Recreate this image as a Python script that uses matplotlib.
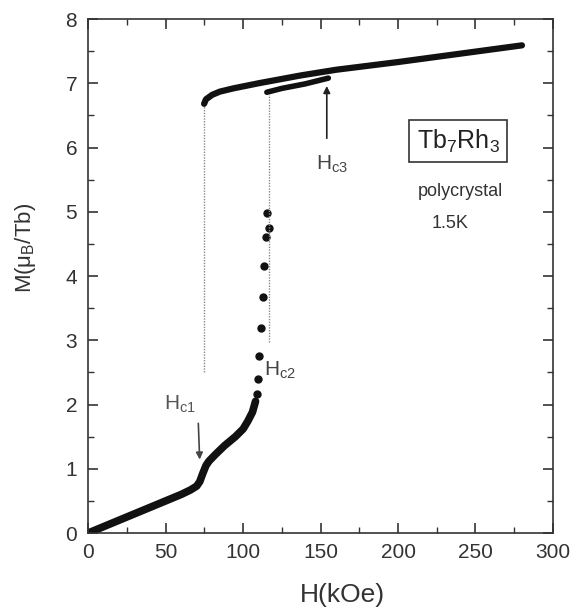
import matplotlib
matplotlib.use('Agg')
import matplotlib.pyplot as plt
from matplotlib.ticker import MultipleLocator

plt.rcParams['font.family'] = ['Liberation Sans', 'DejaVu Sans']
plt.rcParams['mathtext.default'] = 'regular'

# 1. data (H in kOe, M in muB/Tb)
low_H = [0, 10, 20, 30, 40, 50, 60, 66, 70, 72, 74, 76, 78, 82, 88, 95, 100, 103, 106, 108]
low_M = [0, 0.1, 0.2, 0.3, 0.4, 0.5, 0.6, 0.67, 0.73, 0.8, 0.93, 1.05, 1.12, 1.22, 1.36, 1.5, 1.62, 1.74, 1.88, 2.05]

jump_H = [109, 109.5, 110, 111.6, 112.5, 113.7, 114.6, 116.6, 115.3]
jump_M = [2.16, 2.4, 2.75, 3.19, 3.68, 4.16, 4.6, 4.74, 4.98]

up1_H = [74.8, 76, 80, 85, 93.6, 110, 136.8, 160, 200, 240, 280]
up1_M = [6.68, 6.75, 6.82, 6.87, 6.92, 7.0, 7.12, 7.21, 7.33, 7.46, 7.59]

up2_H = [115.3, 125, 140, 155]
up2_M = [6.86, 6.92, 6.99, 7.08]

drop_H = [75, 116.5]
drop_top = [6.65, 6.84]
drop_bottom = [2.5, 2.97]

txt = '#333333'

# 2. plot
fig = plt.figure(figsize=(5.73, 6.13), dpi=100)
ax = fig.add_axes([0.154, 0.1305, 0.811, 0.8385])

ax.plot(low_H, low_M, color='#111111', lw=5.5, solid_capstyle='round')
ax.plot(jump_H, jump_M, 'o', color='#111111', ms=5)
ax.plot(up1_H, up1_M, color='#111111', lw=4.5, solid_capstyle='round')
ax.plot(up2_H, up2_M, color='#111111', lw=4, solid_capstyle='round')
for h, t, b in zip(drop_H, drop_top, drop_bottom):
    ax.plot([h, h], [b, t], color='#888888', lw=1, ls=(0, (1, 1)))

# annotations
ax.annotate('', xy=(72, 1.1), xytext=(71, 1.75),
            arrowprops=dict(arrowstyle='-|>', color='#444444', lw=1.2))
ax.text(49, 1.92, 'H$_{c1}$', fontsize=15, color='#555555')
ax.text(113.5, 2.45, 'H$_{c2}$', fontsize=15, color='#444444')
ax.annotate('', xy=(154, 7.0), xytext=(154, 6.1),
            arrowprops=dict(arrowstyle='-|>', color='#222222', lw=1.2))
ax.text(147, 5.65, 'H$_{c3}$', fontsize=15, color='#444444')
ax.text(239, 6.1, 'Tb$_7$Rh$_3$', fontsize=18, color='#222222', ha='center', va='center',
        bbox=dict(boxstyle='square,pad=0.3', fc='white', ec='#333333', lw=1.2))
ax.text(240, 5.31, 'polycrystal', fontsize=13, color='#333333', ha='center', va='center')
ax.text(233.5, 4.82, '1.5K', fontsize=13, color='#333333', ha='center', va='center')

ax.set_xlim(0, 300)
ax.set_ylim(0, 8)
ax.xaxis.set_major_locator(MultipleLocator(50))
ax.xaxis.set_minor_locator(MultipleLocator(25))
ax.yaxis.set_major_locator(MultipleLocator(1))
ax.yaxis.set_minor_locator(MultipleLocator(0.5))
ax.tick_params(which='both', direction='in', top=True, right=True, colors='#333333',
               labelcolor=txt, labelsize=15)
ax.tick_params(which='major', length=7, width=1.2)
ax.tick_params(which='minor', length=4, width=1)
ax.tick_params(axis='x', pad=7)
ax.tick_params(axis='y', pad=8)
for s in ax.spines.values():
    s.set_color('#333333')
    s.set_linewidth(1.2)

ax.set_xlabel('H(kOe)', fontsize=19, color=txt)
ax.set_ylabel('M(μ$_B$/Tb)', fontsize=16, color=txt)
ax.xaxis.set_label_coords(0.546, -0.097)
ax.yaxis.set_label_coords(-0.108, 0.555)

plt.savefig('out.png')
